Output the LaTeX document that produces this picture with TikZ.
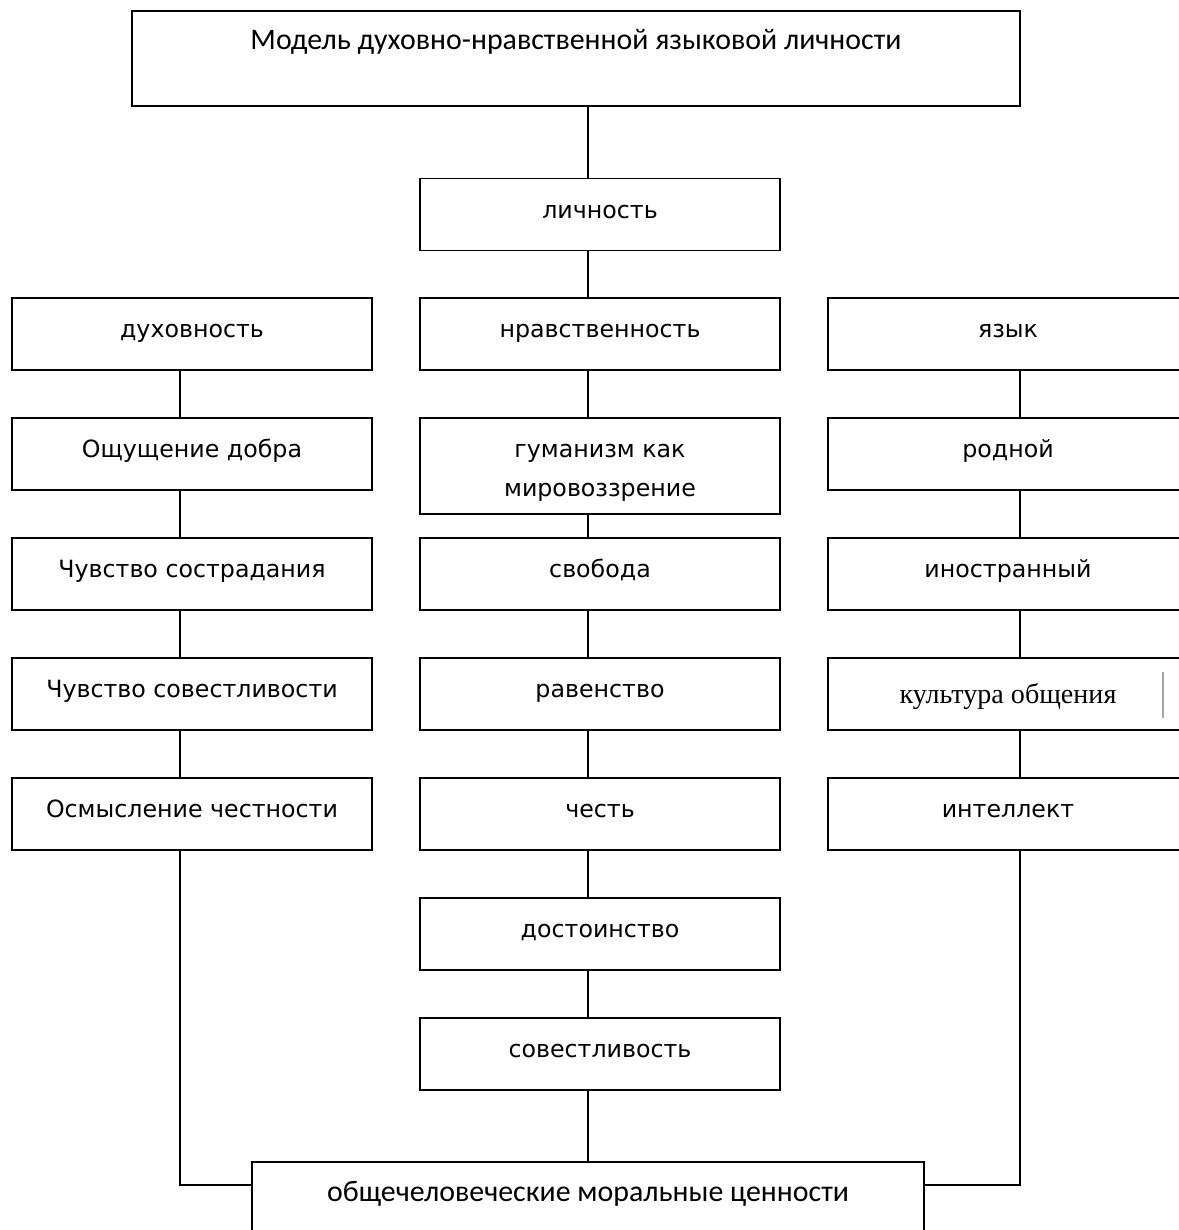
\documentclass[tikz,border=0pt]{standalone}
\usepackage{fontspec}
\setmainfont{DejaVu Sans}
\newfontfamily\calfont{Carlito}
\newfontfamily\romfont{Liberation Serif}
\usetikzlibrary{calc}

\tikzset{
  cell/.style={draw, line width=0.9pt, minimum width=7.2cm, minimum height=1.44cm, inner sep=0pt,
    font=\fontsize{13.5}{16.5}\selectfont, text height=0.37cm, text depth=0.22cm},
  link/.style={line width=0.9pt},
}

\begin{document}
\begin{tikzpicture}[x=0.02cm, y=-0.02cm]
	%%%%% START %%%%%
	\useasboundingbox (0,0) rectangle (1179,1230);
	\clip (0,0) rectangle (1179,1230);
	
	\coordinate (lcol) at (180,0);
	\coordinate (mcol) at (588,0);
	\coordinate (rcol) at (1020,0);
	
	\node[cell, minimum width=17.76cm, minimum height=1.9cm, font=\calfont\fontsize{17}{20}\selectfont,
	  text height=0.3cm, text depth=0.66cm] (model) at (576,58.5) {Модель духовно-нравственной языковой личности};
	\node[cell] (lichn) at (600,214.5) {личность};
	
	\node[cell] (duh) at (192,334) {духовность};
	\node[cell] (nrav) at (600,334) {нравственность};
	\node[cell] (yaz) at (1008,334) {язык};
	
	\node[cell] (dobro) at (192,454) {Ощущение добра};
	\node[cell, minimum height=1.92cm, align=center, text height=1.23cm, text depth=0cm] (gum) at (600,466) {гуманизм как\\[6pt]мировоззрение};
	\node[cell] (rod) at (1008,454) {родной};
	
	\node[cell] (sostr) at (192,574) {Чувство сострадания};
	\node[cell] (svob) at (600,574) {свобода};
	\node[cell] (inostr) at (1008,574) {иностранный};
	
	\node[cell] (sovl) at (192,694) {Чувство совестливости};
	\node[cell] (ravn) at (600,694) {равенство};
	\node[cell, font=\romfont\fontsize{16}{19}\selectfont, text depth=0cm] (kult) at (1008,694) {культура общения};
	\draw[gray!70, line width=1.2pt] (1163,672) -- (1163,718);
	
	\node[cell] (osm) at (192,814) {Осмысление честности};
	\node[cell] (chest) at (600,814) {честь};
	\node[cell] (intel) at (1008,814) {интеллект};
	
	\node[cell] (dost) at (600,934) {достоинство};
	\node[cell] (sovest) at (600,1054) {совестливость};
	
	\node[cell, minimum width=13.44cm, font=\calfont\fontsize{17}{20}\selectfont, text depth=0.25cm] (obsh) at (588,1198) {общечеловеческие моральные ценности};
	
	% vertical links
	\draw[link] (model.south -| mcol) -- (lichn.north -| mcol);
	\draw[link] (lichn.south -| mcol) -- (nrav.north -| mcol);
	\foreach \a/\b in {nrav/gum, gum/svob, svob/ravn, ravn/chest, chest/dost, dost/sovest, sovest/obsh}
		\draw[link] (\a.south -| mcol) -- (\b.north -| mcol);
	\foreach \a/\b in {duh/dobro, dobro/sostr, sostr/sovl, sovl/osm}
		\draw[link] (\a.south -| lcol) -- (\b.north -| lcol);
	\foreach \a/\b in {yaz/rod, rod/inostr, inostr/kult, kult/intel}
		\draw[link] (\a.south -| rcol) -- (\b.north -| rcol);
	
	% side links into the bottom box
	\draw[link] (osm.south -| lcol) |- ([yshift=-0.48cm]obsh.north west);
	\draw[link] (intel.south -| rcol) |- ([yshift=-0.48cm]obsh.north east);
	%%%%% END %%%%%
\end{tikzpicture}
\end{document}
